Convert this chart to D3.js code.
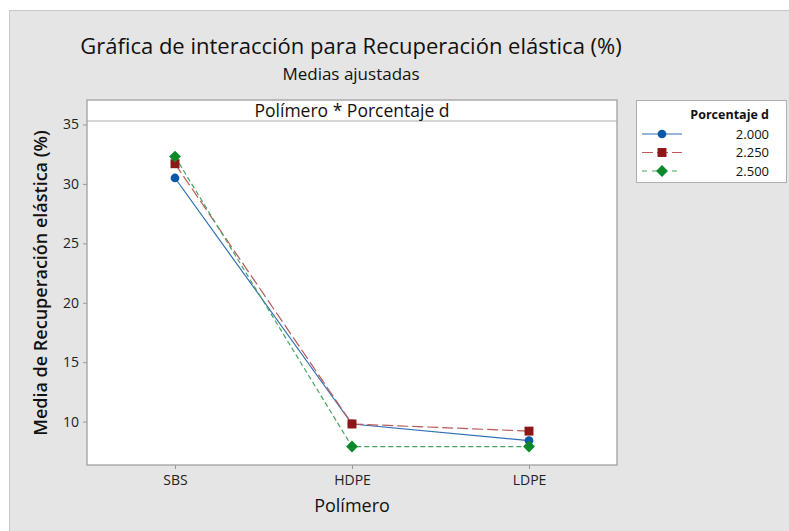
<!DOCTYPE html>
<html>
<head>
<meta charset="utf-8">
<script src="https://cdn.jsdelivr.net/npm/d3@7"></script>
<style>
  html, body { margin: 0; padding: 0; background: #ffffff; }
  svg { display: block; font-family: "Open Sans", "Noto Sans", sans-serif; }
</style>
</head>
<body>
<svg id="chart" width="789" height="531"></svg>
<script>
// Polymer categories on the x axis
const polimeros = ["SBS", "HDPE", "LDPE"];
// Percentage levels (one line per level)
const porcentajes = ["2.000", "2.250", "2.500"];
// Fitted means of elastic recovery (%) per level, in polymer order
const media2000 = [30.5, 9.8, 8.4];
const media2250 = [31.7, 9.8, 9.2];
const media2500 = [32.3, 7.9, 7.9];
const yTicks = [10, 15, 20, 25, 30, 35];

const series = [
  { name: porcentajes[0], values: media2000, color: "#0b57a8", line: "#2f6fb6", dash: null, legendDash: null, shape: "circle" },
  { name: porcentajes[1], values: media2250, color: "#8e1616", line: "#b85a5a", dash: "11,4", legendDash: "11,4", shape: "square" },
  { name: porcentajes[2], values: media2500, color: "#0c8a2b", line: "#48a35f", dash: "5,3", legendDash: "5,5", shape: "diamond" }
];

const svg = d3.select("#chart");

// Gray frame background
svg.append("rect").attr("x", 9.5).attr("y", 10.5).attr("width", 789).attr("height", 531)
  .attr("fill", "#e5e5e5").attr("stroke", "#c8c8c8").attr("stroke-width", 1);

// Titles
svg.append("text").attr("x", 351).attr("y", 54).attr("text-anchor", "middle")
  .attr("font-size", 22).attr("font-weight", 500).attr("fill", "#111")
  .text("Gráfica de interacción para Recuperación elástica (%)");
svg.append("text").attr("x", 351).attr("y", 80).attr("text-anchor", "middle")
  .attr("font-size", 17).attr("fill", "#111").text("Medias ajustadas");

// Panel geometry
const panel = { left: 87, right: 617, top: 100, strip: 121, bottom: 465 };

const x = d3.scalePoint().domain(polimeros).range([175, 529]);
const y = d3.scaleLinear().domain([10, 35]).range([421.6, 124.5]);

// Panel background and strip
svg.append("rect").attr("x", panel.left).attr("y", panel.top)
  .attr("width", panel.right - panel.left).attr("height", panel.bottom - panel.top)
  .attr("fill", "#ffffff").attr("stroke", "#ababab").attr("stroke-width", 1.5);
svg.append("line").attr("x1", panel.left).attr("x2", panel.right)
  .attr("y1", panel.strip).attr("y2", panel.strip)
  .attr("stroke", "#ababab").attr("stroke-width", 1.2);
svg.append("text").attr("x", (panel.left + panel.right) / 2).attr("y", 116.5)
  .attr("text-anchor", "middle").attr("font-size", 17.5).attr("fill", "#111")
  .text("Polímero * Porcentaje d");

// Y axis
const yAxis = d3.axisLeft(y).tickValues(yTicks).tickSize(4).tickPadding(4);
const gy = svg.append("g").attr("transform", `translate(${panel.left},0)`).call(yAxis);
gy.select(".domain").remove();
gy.selectAll(".tick line").attr("stroke", "#999");
gy.selectAll(".tick text").attr("font-size", 14).attr("fill", "#222")
  .style("font-family", "'Open Sans', sans-serif");

// X axis
const xAxis = d3.axisBottom(x).tickSize(4).tickPadding(6);
const gx = svg.append("g").attr("transform", `translate(0,${panel.bottom})`).call(xAxis);
gx.select(".domain").remove();
gx.selectAll(".tick line").attr("stroke", "#999");
gx.selectAll(".tick text").attr("font-size", 14).attr("fill", "#222")
  .style("font-family", "'Open Sans', sans-serif");

// Axis titles
svg.append("text").attr("x", 352).attr("y", 512).attr("text-anchor", "middle")
  .attr("font-size", 18).attr("fill", "#111").text("Polímero");
svg.append("text").attr("transform", "translate(47,283) rotate(-90)")
  .attr("text-anchor", "middle").attr("font-size", 18).attr("font-weight", 600).attr("fill", "#111")
  .text("Media de Recuperación elástica (%)");

// Marker symbols
const symbolFor = {
  circle: d3.symbol().type(d3.symbolCircle).size(60),
  square: d3.symbol().type(d3.symbolSquare).size(80),
  diamond: d3.symbol().type(d3.symbolDiamond2).size(90)
};

const line = d3.line().x((d, i) => x(polimeros[i])).y(d => y(d));

const gLines = svg.append("g");
series.forEach(s => {
  gLines.append("path").datum(s.values).attr("d", line)
    .attr("fill", "none").attr("stroke", s.line).attr("stroke-width", 1.2)
    .attr("stroke-dasharray", s.dash);
});
series.forEach(s => {
  gLines.selectAll(null).data(s.values).enter().append("path")
    .attr("d", symbolFor[s.shape])
    .attr("transform", (d, i) => `translate(${x(polimeros[i])},${y(d)})`)
    .attr("fill", s.color);
});

// Legend
const lg = svg.append("g");
lg.append("rect").attr("x", 636.5).attr("y", 100.5).attr("width", 150).attr("height", 82)
  .attr("fill", "#ffffff").attr("stroke", "#b0b0b0").attr("stroke-width", 1);
lg.append("text").attr("x", 769).attr("y", 119).attr("text-anchor", "end")
  .attr("font-size", 12.5).attr("font-weight", 700).attr("fill", "#111").text("Porcentaje d");
series.forEach((s, i) => {
  const cy = 134 + i * 18.5;
  lg.append("line").attr("x1", 642).attr("x2", 682).attr("y1", cy).attr("y2", cy)
    .attr("stroke", s.line).attr("stroke-width", 1.2).attr("stroke-dasharray", s.legendDash);
  lg.append("path").attr("d", symbolFor[s.shape]).attr("transform", `translate(662,${cy})`)
    .attr("fill", s.color);
  lg.append("text").attr("x", 769).attr("y", cy + 4.5).attr("text-anchor", "end")
    .attr("font-size", 13).attr("fill", "#111").text(s.name);
});
</script>
</body>
</html>
